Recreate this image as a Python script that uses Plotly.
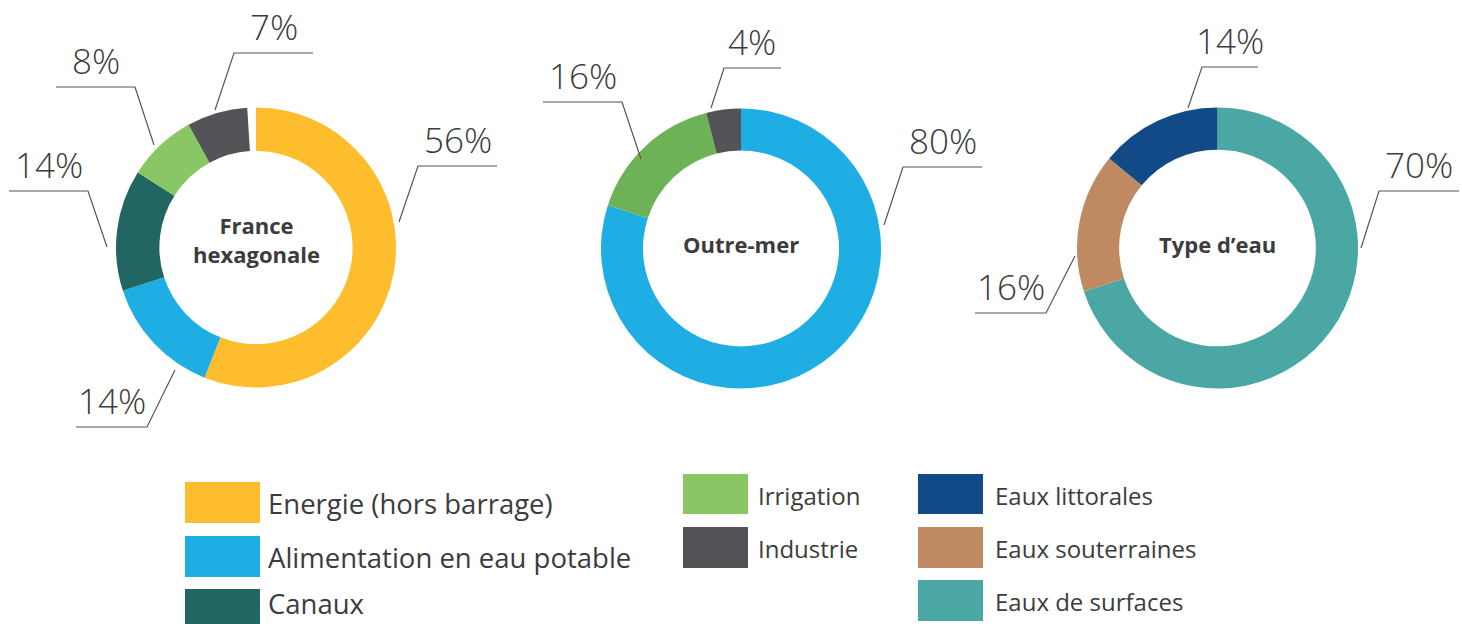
import plotly.graph_objects as go

W, H = 1462, 624

# ---------------- data ----------------
fr_labels = ["Energie (hors barrage)", "Alimentation en eau potable", "Canaux", "Irrigation", "Industrie"]
fr_values = [56, 14, 14, 8, 7]
om_labels = ["Alimentation en eau potable", "Irrigation", "Industrie"]
om_values = [80, 16, 4]
te_labels = ["Eaux de surfaces", "Eaux souterraines", "Eaux littorales"]
te_values = [70, 16, 14]
titles = ["France<br>hexagonale", "Outre-mer", "Type d\u2019eau"]

legend_cols = [
    ["Energie (hors barrage)", "Alimentation en eau potable", "Canaux"],
    ["Irrigation", "Industrie"],
    ["Eaux littorales", "Eaux souterraines", "Eaux de surfaces"],
]

# ---------------- styles ----------------
colors = {
    "Energie (hors barrage)": "#FDBD2C",
    "Alimentation en eau potable": "#1FAEE3",
    "Canaux": "#226663",
    "Irrigation": "#88C764",
    "Industrie": "#535457",
    "Eaux littorales": "#124A87",
    "Eaux souterraines": "#BF8A62",
    "Eaux de surfaces": "#4BA7A3",
}
om_colors = ["#1FAEE3", "#6DB257", "#535457"]
TXT = "#3c3c3c"
LINE = "#555555"


def X(px):
    return px / W


def Y(py):
    return 1 - py / H


# donut geometry (pixel centre, radius, hole)
donuts = [
    dict(cx=256, cy=247.5, r=140, hole=0.69),
    dict(cx=741, cy=248.5, r=140, hole=0.70),
    dict(cx=1217.5, cy=248, r=140.5, hole=0.70),
]

fig = go.Figure()

series = [
    (fr_labels + [""], fr_values + [100 - sum(fr_values)],
     [colors[l] for l in fr_labels] + ["rgba(0,0,0,0)"]),
    (om_labels, om_values, om_colors),
    (te_labels, te_values, [colors[l] for l in te_labels]),
]

for (labels, values, cols), d in zip(series, donuts):
    fig.add_trace(go.Pie(
        labels=labels, values=values, hole=d["hole"], sort=False,
        direction="clockwise", rotation=0, textinfo="none",
        marker=dict(colors=cols, line=dict(width=0)),
        domain=dict(x=[X(d["cx"] - d["r"]), X(d["cx"] + d["r"])],
                    y=[Y(d["cy"] + d["r"]), Y(d["cy"] - d["r"])]),
        showlegend=False, hoverinfo="label+percent",
    ))

# centre titles
title_y = [240, 244, 244]
for t, d, ty in zip(titles, donuts, title_y):
    fig.add_annotation(x=X(d["cx"]), y=Y(ty), xref="paper", yref="paper",
                       text=f"<b>{t}</b>", showarrow=False,
                       xanchor="center", yanchor="middle",
                       font=dict(family="Open Sans", size=22, color=TXT))

# leader lines: (start, elbow, end) in pixels, one per slice in data order
leaders = [
    [[(399, 222), (418, 166), (497, 166)],
     [(175, 370), (147, 427), (76, 427)],
     [(107, 247), (88, 191), (9, 191)],
     [(154, 145), (135, 87), (56, 87)],
     [(215, 110), (234, 53), (313, 53)]],
    [[(884, 225), (903, 167), (982, 167)],
     [(641, 159), (622, 102), (543, 102)],
     [(711, 108), (724, 68), (781, 68)]],
    [[(1361, 248), (1379, 191), (1459, 191)],
     [(1075, 256), (1046, 313), (975, 313)],
     [(1188, 108), (1202, 67), (1258, 67)]],
]
all_values = [fr_values, om_values, te_values]

for vals, lds in zip(all_values, leaders):
    for v, pts in zip(vals, lds):
        path = "M " + " L ".join(f"{X(px)} {Y(py)}" for px, py in pts)
        fig.add_shape(type="path", path=path, xref="paper", yref="paper",
                      line=dict(color=LINE, width=1.2))
        (ex, ey), (fx, fy) = pts[1], pts[2]
        fig.add_annotation(x=X((ex + fx) / 2), y=Y(ey - 1), xref="paper", yref="paper",
                           text=f"{v}%", showarrow=False,
                           xanchor="center", yanchor="bottom",
                           font=dict(family="Open Sans", size=35, color=TXT, weight=300))

# legend (custom layout)
legend_geo = [
    dict(x0=185, x1=260, tx=266, fs=27.5, ys=[(482, 523), (536, 577), (589, 630)]),
    dict(x0=683, x1=748, tx=756, fs=24, ys=[(474, 514), (527, 568)]),
    dict(x0=918, x1=983, tx=993, fs=24, ys=[(474, 514), (527, 568), (580, 621)]),
]
for col, g in zip(legend_cols, legend_geo):
    for lab, (y0, y1) in zip(col, g["ys"]):
        fig.add_shape(type="rect", xref="paper", yref="paper",
                      x0=X(g["x0"]), x1=X(g["x1"]), y0=Y(y1), y1=Y(y0),
                      fillcolor=colors[lab], line=dict(width=0))
        if y1 > H:
            fig.add_annotation(x=X(g["tx"]), y=0, xref="paper", yref="paper",
                               text=lab, showarrow=False, xanchor="left", yanchor="bottom",
                               font=dict(family="Open Sans", size=g["fs"], color=TXT))
        else:
            fig.add_annotation(x=X(g["tx"]), y=Y((y0 + y1) / 2 + 1), xref="paper", yref="paper",
                               text=lab, showarrow=False, xanchor="left", yanchor="middle",
                               font=dict(family="Open Sans", size=g["fs"], color=TXT))

fig.update_layout(
    width=W, height=H, margin=dict(l=0, r=0, t=0, b=0),
    paper_bgcolor="white", plot_bgcolor="white",
    showlegend=False,
)

fig.write_html("out.html")
